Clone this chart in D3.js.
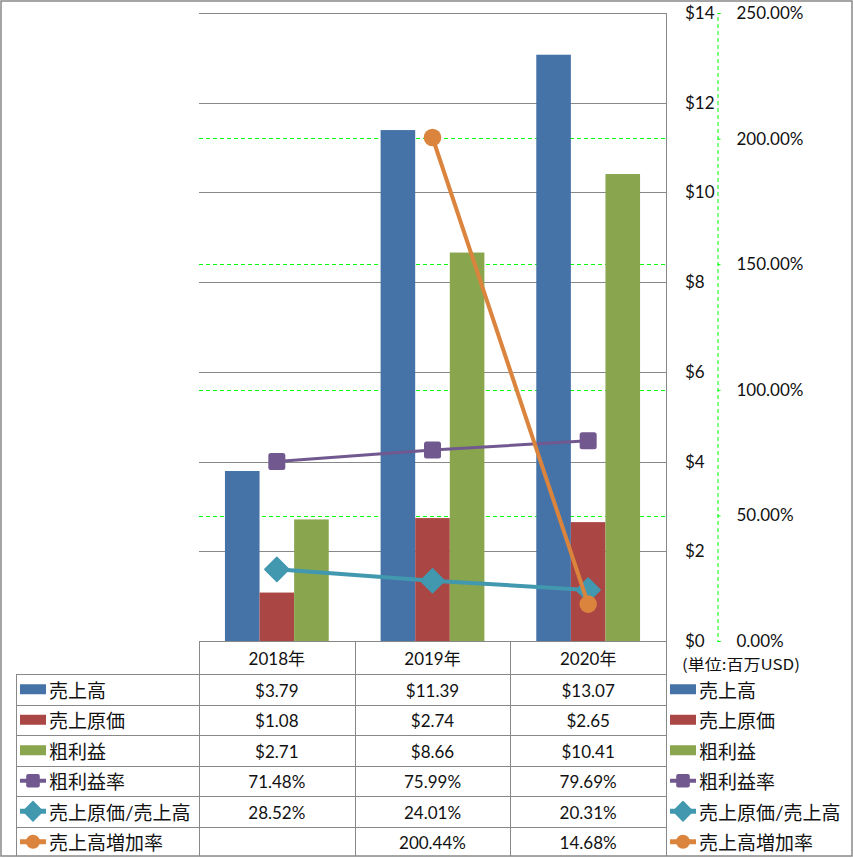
<!DOCTYPE html>
<html><head><meta charset="utf-8">
<script src="https://cdn.jsdelivr.net/npm/d3@7"></script>
<style>
html,body{margin:0;padding:0;background:#fff;}
svg text{font-family:"Lato","Noto Sans CJK JP",sans-serif;fill:#111;}
</style></head>
<body>
<svg id="chart" width="853" height="858"></svg>
<script>
const years = ["2018年","2019年","2020年"];
const sales = [3.79, 11.39, 13.07];
const cost = [1.08, 2.74, 2.65];
const gross = [2.71, 8.66, 10.41];
const grossMargin = [71.48, 75.99, 79.69];
const costRatio = [28.52, 24.01, 20.31];
const salesGrowth = [null, 200.44, 14.68];
const leftTicks = [0,2,4,6,8,10,12,14];
const rightTicks = [0,50,100,150,200,250];

const barSeries = [
  {name:"売上高", values:sales, color:"#4572A7"},
  {name:"売上原価", values:cost, color:"#AA4643"},
  {name:"粗利益", values:gross, color:"#89A54E"}
];
const lineSeries = [
  {name:"粗利益率", values:grossMargin, color:"#71588F", marker:"square", w:3},
  {name:"売上原価/売上高", values:costRatio, color:"#4198AF", marker:"diamond", w:4},
  {name:"売上高増加率", values:salesGrowth, color:"#DB843D", marker:"circle", w:4}
];

const svg = d3.select("#chart");
const L = 199, R = 666, T = 13, B = 641;
const grid = "#888888";
const x = d3.scaleBand().domain(years).range([L, R]).padding(0);
const y = d3.scaleLinear().domain([0,14]).range([B, T]);
const y2 = d3.scaleLinear().domain([0,250]).range([B, T]);

// outer border
svg.append("rect").attr("x",1).attr("y",1).attr("width",851).attr("height",855)
  .attr("fill","none").attr("stroke",grid).attr("stroke-width",1.5);

// gray gridlines
svg.append("g").selectAll("line").data(leftTicks.filter(d=>d>0)).join("line")
  .attr("x1",L).attr("x2",R).attr("y1",d=>Math.round(y(d))+0.5).attr("y2",d=>Math.round(y(d))+0.5)
  .attr("stroke",grid).attr("stroke-width",1);
// green dashed gridlines
const snap = v => Math.round(v/2)*2 + 0.5;
svg.append("g").selectAll("line").data(rightTicks.filter(d=>d>0 && d<250)).join("line")
  .attr("x1",L).attr("x2",R).attr("y1",d=>snap(y2(d))).attr("y2",d=>snap(y2(d)))
  .attr("stroke","#00FF00").attr("stroke-width",1).attr("stroke-dasharray","4,3");
// right plot border
svg.append("line").attr("x1",R+0.5).attr("x2",R+0.5).attr("y1",T).attr("y2",B).attr("stroke",grid);

// bars
const bw = x.bandwidth()/4.5;
barSeries.forEach((s,i)=>{
  svg.append("g").selectAll("rect").data(s.values).join("rect")
    .attr("x",(d,j)=>x(years[j]) + x.bandwidth()/2 - 1.5*bw + i*bw)
    .attr("width",bw)
    .attr("y",d=>y(d)).attr("height",d=>B-y(d))
    .attr("fill",s.color);
});

// left (primary) axis labels, positioned right of plot
const axL = svg.append("g").attr("transform",`translate(${R},0)`)
  .call(d3.axisRight(y).tickValues(leftTicks).tickFormat(d=>"$"+d).tickSize(0).tickPadding(19));
axL.select(".domain").remove();
axL.selectAll("text").attr("font-size",17).style("font-family","Lato,'Noto Sans CJK JP',sans-serif").attr("fill","#111");

// right (secondary) axis
const axR = svg.append("g").attr("transform",`translate(717.5,0)`)
  .call(d3.axisRight(y2).tickValues(rightTicks).tickFormat(d=>d.toFixed(2)+"%").tickSize(3).tickPadding(16));
axR.select(".domain").attr("stroke","#00FF00").attr("stroke-dasharray","4,3");
axR.selectAll(".tick line").attr("stroke","#00FF00");
axR.selectAll("text").attr("font-size",17).style("font-family","Lato,'Noto Sans CJK JP',sans-serif").attr("fill","#111");

// lines
function drawMarker(g, type, cx, cy, color, sc){
  sc = sc||1;
  if(type==="square"){
    const s=17*sc;
    g.append("rect").attr("x",cx-s/2).attr("y",cy-s/2).attr("width",s).attr("height",s).attr("rx",2.5*sc).attr("fill",color);
  } else if(type==="diamond"){
    const r=12*sc;
    g.append("path").attr("d",`M${cx},${cy-r}L${cx+r},${cy}L${cx},${cy+r}L${cx-r},${cy}Z`).attr("fill",color).attr("stroke",color).attr("stroke-width",1.5).attr("stroke-linejoin","round");
  } else {
    g.append("circle").attr("cx",cx).attr("cy",cy).attr("r",8.8*sc).attr("fill",color);
  }
}
lineSeries.forEach(s=>{
  const pts = s.values.map((v,j)=>({v, x:x(years[j])+x.bandwidth()/2}));
  const line = d3.line().defined(d=>d.v!==null).x(d=>d.x).y(d=>y2(d.v));
  const g = svg.append("g");
  g.append("path").datum(pts).attr("d",line).attr("fill","none").attr("stroke",s.color).attr("stroke-width",s.w).attr("stroke-linejoin","round");
  pts.filter(d=>d.v!==null).forEach(d=>drawMarker(g, s.marker, d.x, y2(d.v), s.color));
});

// unit label
svg.append("text").attr("x",682).attr("y",663).attr("dominant-baseline","central")
  .attr("font-size",15).attr("textLength",118).attr("lengthAdjust","spacingAndGlyphs")
  .style("font-family","'Noto Sans CJK JP',sans-serif").text("(単位:百万USD)");

// data table
const rowTop = 674, rowH = 30.5;
const tbl = svg.append("g");
const colEdges = [L, x("2019年"), x("2020年"), R];
colEdges.forEach(cx=>{
  tbl.append("line").attr("x1",Math.round(cx)+0.5).attr("x2",Math.round(cx)+0.5).attr("y1",B).attr("y2",856).attr("stroke",grid);
});
tbl.append("line").attr("x1",L).attr("x2",R).attr("y1",B+0.5).attr("y2",B+0.5).attr("stroke",grid);
for(let r=0;r<6;r++){
  const yy = Math.round(rowTop + r*rowH)+0.5;
  tbl.append("line").attr("x1",16).attr("x2",R).attr("y1",yy).attr("y2",yy).attr("stroke",grid);
}
tbl.append("line").attr("x1",16.5).attr("x2",16.5).attr("y1",rowTop).attr("y2",856).attr("stroke",grid);

// header
years.forEach(yr=>{
  tbl.append("text").attr("x",x(yr)+x.bandwidth()/2).attr("y",(B+rowTop)/2+1)
    .attr("text-anchor","middle").attr("dominant-baseline","central").attr("font-size",17).text(yr);
});

const rows = [
  {s:barSeries[0], fmt:d=>"$"+d.toFixed(2)},
  {s:barSeries[1], fmt:d=>"$"+d.toFixed(2)},
  {s:barSeries[2], fmt:d=>"$"+d.toFixed(2)},
  {s:lineSeries[0], fmt:d=>d.toFixed(2)+"%"},
  {s:lineSeries[1], fmt:d=>d.toFixed(2)+"%"},
  {s:lineSeries[2], fmt:d=>d.toFixed(2)+"%"}
];
function legendKey(g, s, x0, cy){
  if(s.marker){
    g.append("line").attr("x1",x0).attr("x2",x0+26).attr("y1",cy).attr("y2",cy).attr("stroke",s.color).attr("stroke-width",s.w+1);
    drawMarker(g, s.marker, x0+13, cy, s.color, 0.8);
  } else {
    g.append("rect").attr("x",x0).attr("y",cy-5).attr("width",26).attr("height",10).attr("fill",s.color);
  }
}
rows.forEach((row,r)=>{
  const cy = rowTop + r*rowH + rowH/2;
  legendKey(tbl, row.s, 20, cy);
  tbl.append("text").attr("x",49).attr("y",cy+1).attr("dominant-baseline","central").attr("font-size",19).text(row.s.name);
  legendKey(tbl, row.s, 670, cy);
  tbl.append("text").attr("x",699).attr("y",cy+1).attr("dominant-baseline","central").attr("font-size",19).text(row.s.name);
  row.s.values.forEach((v,j)=>{
    if(v===null) return;
    tbl.append("text").attr("x",x(years[j])+x.bandwidth()/2).attr("y",cy+1)
      .attr("text-anchor","middle").attr("dominant-baseline","central").attr("font-size",17).text(row.fmt(v));
  });
});
</script>
</body></html>
